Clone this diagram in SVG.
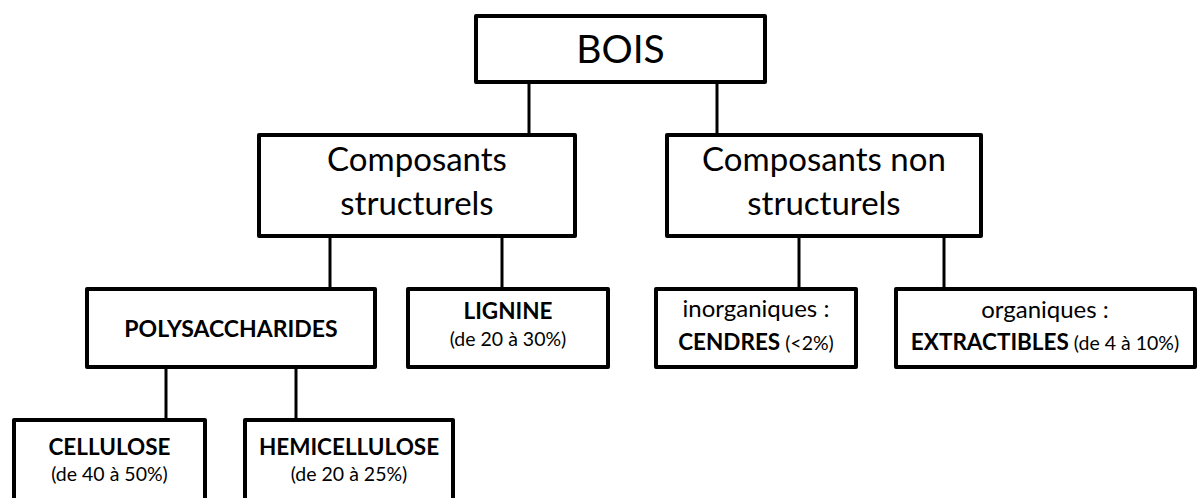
<svg xmlns="http://www.w3.org/2000/svg" width="1200" height="498" viewBox="0 0 1200 498">
<style>
.box{fill:#fff;stroke:#000;stroke-width:4;stroke-linejoin:round}
.con line{stroke:#000;stroke-width:3}
text{font-family:Lato,"Open Sans","Liberation Sans",sans-serif;fill:#000;text-anchor:middle}
.big{font-size:39px}
.mid{font-size:33px}
.b{font-weight:bold;font-size:22.5px}
.s{font-size:19.5px}
.r{font-size:24px}
</style>
<rect width="1200" height="498" fill="#fff"/>
<g id="connectors" class="con">
<line x1="529" y1="84" x2="529" y2="134"/>
<line x1="717" y1="84" x2="717" y2="134"/>
<line x1="330" y1="238" x2="330" y2="288"/>
<line x1="502" y1="238" x2="502" y2="288"/>
<line x1="799" y1="238" x2="799" y2="288"/>
<line x1="944" y1="238" x2="944" y2="288"/>
<line x1="166" y1="369" x2="166" y2="419"/>
<line x1="296" y1="369" x2="296" y2="419"/>
</g>
<g id="bois">
<rect class="box" x="476" y="16" width="289" height="66"/>
<text class="big" x="620.5" y="63">BOIS</text>
</g>
<g id="structurels">
<rect class="box" x="259" y="135" width="316" height="101"/>
<text class="mid" x="417" y="171">Composants</text>
<text class="mid" x="417" y="215">structurels</text>
</g>
<g id="non-structurels">
<rect class="box" x="667" y="135" width="314" height="101"/>
<text class="mid" x="824" y="171">Composants non</text>
<text class="mid" x="824" y="215">structurels</text>
</g>
<g id="polysaccharides">
<rect class="box" x="87" y="289" width="288" height="78"/>
<text class="b" x="231" y="337" style="font-size:23px">POLYSACCHARIDES</text>
</g>
<g id="lignine">
<rect class="box" x="408" y="289" width="200" height="78"/>
<text class="b" x="508" y="319">LIGNINE</text>
<text class="s" x="508" y="346">(de 20 à 30%)</text>
</g>
<g id="cendres">
<rect class="box" x="656" y="289" width="200" height="78"/>
<text class="r" x="756" y="317">inorganiques :</text>
<text x="756" y="350"><tspan class="b">CENDRES</tspan><tspan class="s"> (&lt;2%)</tspan></text>
</g>
<g id="extractibles">
<rect class="box" x="896" y="289" width="299" height="78"/>
<text class="r" x="1045" y="318">organiques :</text>
<text x="1045" y="350"><tspan class="b">EXTRACTIBLES</tspan><tspan class="s"> (de 4 à 10%)</tspan></text>
</g>
<g id="cellulose">
<rect class="box" x="14" y="420" width="191" height="100"/>
<text class="b" x="109.5" y="455">CELLULOSE</text>
<text class="s" x="109.5" y="481">(de 40 à 50%)</text>
</g>
<g id="hemicellulose">
<rect class="box" x="245" y="420" width="208" height="100"/>
<text class="b" x="349" y="455">HEMICELLULOSE</text>
<text class="s" x="349" y="481">(de 20 à 25%)</text>
</g>
</svg>
